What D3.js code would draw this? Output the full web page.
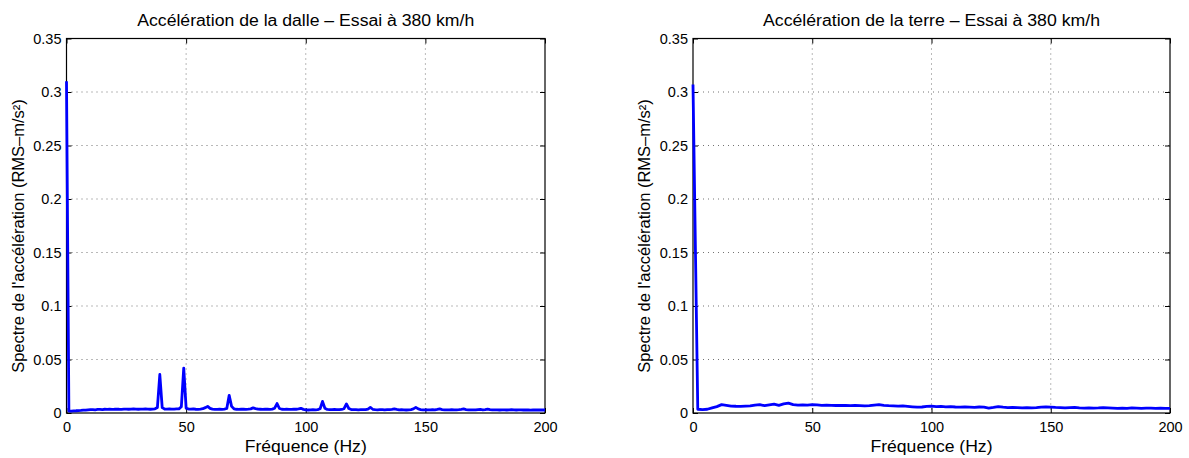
<!DOCTYPE html>
<html>
<head>
<meta charset="utf-8">
<script src="https://cdn.jsdelivr.net/npm/d3@7"></script>
<style>
  html, body { margin: 0; padding: 0; background: #fff; }
  svg { display: block; font-family: "Liberation Sans", Arial, Helvetica, sans-serif; }
</style>
</head>
<body>
<svg id="chart" width="1189" height="458"></svg>
<script>
// ---------- DATA ----------
const titles = ["Accélération de la dalle – Essai à 380 km/h", "Accélération de la terre – Essai à 380 km/h"];
const xLabel = "Fréquence (Hz)";
const yLabel = "Spectre de l'accélération (RMS–m/s²)";
const xTicks = [0, 50, 100, 150, 200];
const xTickLabels = ["0", "50", "100", "150", "200"];
const yTicks = [0, 0.05, 0.1, 0.15, 0.2, 0.25, 0.3, 0.35];
const yTickLabels = ["0", "0.05", "0.1", "0.15", "0.2", "0.25", "0.3", "0.35"];

// Slab (dalle) spectrum, 1 Hz resolution, 0..200 Hz
const stepDalle = 1;
const dalle = [
0.310,0.0018,0.0018,0.0020,0.0021,0.0023,0.0024,0.0026,0.0027,0.0029,
0.0031,0.0032,0.0030,0.0033,0.0034,0.0032,0.0035,0.0034,0.0036,0.0034,
0.0035,0.0037,0.0035,0.0034,0.0036,0.0037,0.0035,0.0036,0.0038,0.0036,
0.0035,0.0037,0.0036,0.0038,0.0037,0.0035,0.0037,0.0039,0.0052,0.0360,
0.0050,0.0037,0.0036,0.0038,0.0037,0.0036,0.0038,0.0039,0.0058,0.0420,
0.0046,0.0037,0.0036,0.0038,0.0035,0.0034,0.0036,0.0040,0.0050,0.0062,
0.0043,0.0036,0.0034,0.0033,0.0035,0.0034,0.0036,0.0042,0.0165,0.0062,
0.0039,0.0035,0.0034,0.0036,0.0035,0.0034,0.0036,0.0039,0.0048,0.0041,
0.0036,0.0035,0.0034,0.0036,0.0035,0.0034,0.0036,0.0045,0.0088,0.0042,
0.0035,0.0034,0.0035,0.0033,0.0034,0.0036,0.0035,0.0038,0.0044,0.0034,
0.0029,0.0028,0.0030,0.0031,0.0030,0.0032,0.0040,0.0108,0.0045,0.0033,
0.0032,0.0031,0.0033,0.0032,0.0031,0.0033,0.0040,0.0085,0.0042,0.0032,
0.0031,0.0032,0.0030,0.0031,0.0032,0.0031,0.0036,0.0052,0.0035,0.0031,
0.0030,0.0031,0.0032,0.0030,0.0031,0.0032,0.0034,0.0038,0.0033,0.0030,
0.0031,0.0029,0.0028,0.0030,0.0032,0.0038,0.0052,0.0038,0.0032,0.0030,
0.0029,0.0030,0.0029,0.0031,0.0030,0.0033,0.0038,0.0032,0.0030,0.0029,
0.0030,0.0031,0.0029,0.0030,0.0031,0.0034,0.0038,0.0032,0.0030,0.0029,
0.0030,0.0029,0.0031,0.0033,0.0030,0.0032,0.0036,0.0031,0.0029,0.0030,
0.0029,0.0028,0.0030,0.0029,0.0028,0.0030,0.0031,0.0029,0.0028,0.0029,
0.0030,0.0028,0.0029,0.0028,0.0027,0.0029,0.0028,0.0029,0.0028,0.0028,
0.0028
];

// Ground (terre) spectrum, 2 Hz resolution, 0..200 Hz
const stepTerre = 2;
const terre = [
0.307,0.0035,0.0032,0.0035,0.0048,0.0060,0.0078,0.0072,0.0065,0.0063,
0.0062,0.0064,0.0066,0.0074,0.0078,0.0068,0.0075,0.0082,0.0072,0.0085,
0.0092,0.0078,0.0074,0.0076,0.0074,0.0078,0.0076,0.0072,0.0074,0.0072,
0.0070,0.0072,0.0070,0.0068,0.0070,0.0068,0.0066,0.0068,0.0074,0.0078,
0.0072,0.0068,0.0066,0.0064,0.0066,0.0062,0.0058,0.0054,0.0056,0.0062,
0.0064,0.0060,0.0062,0.0058,0.0060,0.0056,0.0055,0.0057,0.0055,0.0053,
0.0056,0.0054,0.0046,0.0052,0.0060,0.0054,0.0050,0.0052,0.0050,0.0048,
0.0050,0.0048,0.0050,0.0054,0.0056,0.0055,0.0052,0.0050,0.0048,0.0050,
0.0052,0.0048,0.0046,0.0048,0.0045,0.0047,0.0050,0.0048,0.0046,0.0044,
0.0046,0.0044,0.0048,0.0046,0.0044,0.0045,0.0046,0.0044,0.0045,0.0044,
0.0044
];

// ---------- LAYOUT ----------
const svg = d3.select("#chart");
const panels = [
  { title: titles[0], values: dalle, step: stepDalle, x0: 66.5, x1: 545 },
  { title: titles[1], values: terre, step: stepTerre, x0: 693, x1: 1170 }
];
const yTop = 38.5, yBottom = 413;
const tickLen = 5;
const fontFam = "Liberation Sans, Arial, sans-serif";

panels.forEach(p => {
  const x = d3.scaleLinear().domain([0, 200]).range([p.x0, p.x1]);
  const y = d3.scaleLinear().domain([0, 0.35]).range([yBottom, yTop]);
  const g = svg.append("g");

  // grid (dotted)
  g.append("g").selectAll("line").data(xTicks.slice(1, -1)).join("line")
    .attr("x1", d => x(d)).attr("x2", d => x(d))
    .attr("y1", yTop).attr("y2", yBottom)
    .attr("stroke", "#000").attr("stroke-opacity", 0.55)
    .attr("stroke-width", 1).attr("stroke-dasharray", "1,4");
  g.append("g").selectAll("line").data(yTicks.slice(1, -1)).join("line")
    .attr("x1", p.x0).attr("x2", p.x1)
    .attr("y1", d => y(d)).attr("y2", d => y(d))
    .attr("stroke", "#000").attr("stroke-opacity", 0.55)
    .attr("stroke-width", 1).attr("stroke-dasharray", "1,4");

  // axes with inward ticks
  const ax = (gen, tr) => g.append("g").attr("transform", tr).call(gen)
    .call(s => s.select(".domain").remove())
    .call(s => s.selectAll(".tick line").attr("stroke", "#000"));

  ax(d3.axisBottom(x).tickValues(xTicks).tickSize(-tickLen).tickPadding(9)
      .tickFormat((d, i) => xTickLabels[i]), `translate(0,${yBottom})`)
    .selectAll("text").attr("font-size", 14.5).attr("fill", "#000")
    .attr("font-family", fontFam);
  ax(d3.axisTop(x).tickValues(xTicks).tickSize(-tickLen).tickFormat(""), `translate(0,${yTop})`);
  ax(d3.axisLeft(y).tickValues(yTicks).tickSize(-tickLen).tickPadding(5)
      .tickFormat((d, i) => yTickLabels[i]), `translate(${p.x0},0)`)
    .selectAll("text").attr("font-size", 14.5).attr("fill", "#000")
    .attr("font-family", fontFam);
  ax(d3.axisRight(y).tickValues(yTicks).tickSize(-tickLen).tickFormat(""), `translate(${p.x1},0)`);

  // box
  g.append("rect").attr("x", p.x0).attr("y", yTop)
    .attr("width", p.x1 - p.x0).attr("height", yBottom - yTop)
    .attr("fill", "none").attr("stroke", "#000").attr("stroke-width", 1.2);

  // data line
  const line = d3.line().x((d, i) => x(i * p.step)).y(d => y(d));
  g.append("path").datum(p.values).attr("d", line)
    .attr("fill", "none").attr("stroke", "#0000ff")
    .attr("stroke-width", 2.8).attr("stroke-linejoin", "round");

  // title
  g.append("text").attr("x", (p.x0 + p.x1) / 2).attr("y", 26)
    .attr("text-anchor", "middle").attr("font-size", 16)
    .attr("textLength", 337).attr("lengthAdjust", "spacingAndGlyphs")
    .text(p.title);
  // x label
  g.append("text").attr("x", (p.x0 + p.x1) / 2).attr("y", 452)
    .attr("text-anchor", "middle").attr("font-size", 16.5)
    .attr("textLength", 122).attr("lengthAdjust", "spacingAndGlyphs")
    .text(xLabel);
  // y label
  g.append("text")
    .attr("transform", `translate(${p.x0 - 43},236) rotate(-90)`)
    .attr("text-anchor", "middle").attr("font-size", 16.5).text(yLabel);
});
</script>
</body>
</html>
